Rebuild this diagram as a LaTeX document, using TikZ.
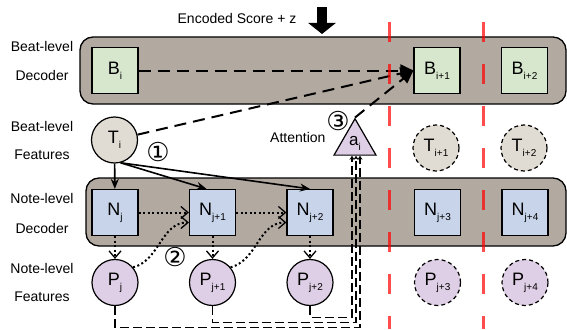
\documentclass[tikz,border=0pt]{standalone}
\usepackage{fontspec}
\setmainfont{Liberation Sans}
\newfontfamily\circfont{DejaVu Sans}
\usetikzlibrary{arrows.meta, shapes.geometric}

\definecolor{bandgray}{HTML}{B2A9A1}
\definecolor{beatgreen}{HTML}{D7E7CD}
\definecolor{featbeige}{HTML}{E1DCD3}
\definecolor{noteblue}{HTML}{C7D4EA}
\definecolor{notepurple}{HTML}{DFCFE6}

\newcommand{\idx}[1]{\raisebox{-5pt}{\fontsize{10}{10}\selectfont #1}}

\begin{document}
\begin{tikzpicture}[
                x=1pt, y=-1pt,
                font=\fontsize{14}{16}\selectfont,
                band/.style={draw, line width=1.3pt, fill=bandgray, rounded corners=13pt},
                beatbox/.style={draw, line width=1.2pt, fill=beatgreen, minimum width=46pt, minimum height=46pt,
                  inner sep=0pt, font=\fontsize{18}{20}\selectfont},
                notebox/.style={beatbox, fill=noteblue},
                beatfeat/.style={circle, draw, line width=1.2pt, fill=featbeige, minimum size=46pt,
                  inner sep=0pt, font=\fontsize{18}{20}\selectfont},
                notefeat/.style={beatfeat, fill=notepurple},
                future/.style={dash pattern=on 4pt off 3pt},
                attn/.style={regular polygon, regular polygon sides=3, draw, line width=1.2pt, fill=notepurple,
                  minimum size=48.5pt, inner sep=0pt, font=\fontsize{17}{18}\selectfont},
                circnum/.style={font=\circfont\fontsize{26}{26}\selectfont, inner sep=0pt},
                beatarrow/.style={draw, line width=2pt, dash pattern=on 12pt off 7pt, -{Triangle[length=13pt,width=12pt]}},
                tiarrow/.style={draw, line width=1.6pt, -{Stealth[length=10pt,width=8pt]}},
                dotarrow/.style={draw, line width=2pt, dash pattern=on 2pt off 2.5pt,
                  -{Straight Barb[length=7pt,width=12pt,line width=1.3pt]}},
                featline/.style={draw, line width=1.2pt, dash pattern=on 9pt off 4pt, -{Stealth[length=4pt,width=5pt]}},
                sepline/.style={draw=red, opacity=0.7, line width=3pt, dash pattern=on 20pt off 22pt}
              ]
              \useasboundingbox (0,0) rectangle (567,329);

              % bands
              \draw[band] (80,37) rectangle (566,104);
              \draw[band] (86,178) rectangle (566,246);

              % side texts
              \node (beatdec1) at (42,46) {Beat-level};
              \node (beatdec2) at (42,75) {Decoder};
              \node (beatfeat1) at (42,126) {Beat-level};
              \node (beatfeat2) at (42,155) {Features};
              \node (notedec1) at (42,198) {Note-level};
              \node (notedec2) at (42,228) {Decoder};
              \node (notefeat1) at (42,268) {Note-level};
              \node (notefeat2) at (42,297) {Features};

              \node (enc) at (237,18) {Encoded Score + z};
              \coordinate (zin) at (322,7);
              \coordinate (zout) at (322,34);
              \draw[line width=10pt, -{Triangle[length=11pt,width=27pt]}] (zin) -- (zout);

              % beat level
              \node (Bi) [beatbox] at (115,70.5) {B\idx{i}};
              \node (Bi1) [beatbox] at (437,70.5) {B\idx{i+1}};
              \node (Bi2) [beatbox] at (524.5,70.5) {B\idx{i+2}};
              \node (Ti) [beatfeat] at (114.5,140) {T\idx{i}};
              \node (Ti1) [beatfeat, future] at (436,148) {T\idx{i+1}};
              \node (Ti2) [beatfeat, future] at (524,148) {T\idx{i+2}};

              % attention
              \node (att) [attn] at (355,143) {a\idx{i}};
              \node (atttext) [anchor=east] at (329,137) {Attention};

              % note level
              \node (Nj) [notebox] at (115,212.5) {N\idx{j}};
              \node (Nj1) [notebox] at (212.5,212.5) {N\idx{j+1}};
              \node (Nj2) [notebox] at (310,212.5) {N\idx{j+2}};
              \node (Nj3) [notebox] at (437.5,212.5) {N\idx{j+3}};
              \node (Nj4) [notebox] at (525,212.5) {N\idx{j+4}};
              \node (Pj) [notefeat] at (115,282.5) {P\idx{j}};
              \node (Pj1) [notefeat] at (212.5,282.5) {P\idx{j+1}};
              \node (Pj2) [notefeat] at (310,282.5) {P\idx{j+2}};
              \node (Pj3) [notefeat, future] at (437.5,282.5) {P\idx{j+3}};
              \node (Pj4) [notefeat, future] at (525,282.5) {P\idx{j+4}};

              \node (one) [circnum] at (158,152) {①};
              \node (two) [circnum] at (175,257) {②};
              \node (three) [circnum] at (338,121) {③};

              % Draw arrows
              \draw[beatarrow] (Bi) -- (Bi1);
              \draw[beatarrow] (Ti) -- (Bi1.west);
              \draw[beatarrow] (att.corner 1) -- (Bi1.west);
              \draw[tiarrow] (Ti) -- (Nj);
              \draw[tiarrow] (Ti.-75) -- ([xshift=-6pt]Nj1.north);
              \draw[tiarrow] (Ti.-75) -- (Nj2.north);
              \draw[dotarrow] (Nj) -- (Nj1);
              \draw[dotarrow] (Nj1) -- (Nj2);
              \draw[dotarrow] (Nj) -- (Pj);
              \draw[dotarrow] (Nj1) -- (Pj1);
              \draw[dotarrow] (Nj2) -- (Pj2);
              \draw[dotarrow] (Pj.40) to[out=15, in=180] ([yshift=-10pt]Nj1.west);
              \draw[dotarrow] (Pj1.40) to[out=15, in=180] ([yshift=-10pt]Nj2.west);
              \draw[featline] (Pj.south) -- ++(0,21) -| ([xshift=5pt]att.south);
              \draw[featline] (Pj1.south) -- ++(0,16) -| ([xshift=1pt]att.south);
              \draw[featline] (Pj2.south) -- ++(0,11) -| ([xshift=-3pt]att.south);

              % separators
              \draw[sepline] (389,22) -- (389,329);
              \draw[sepline] (483,22) -- (483,329);

            \end{tikzpicture}
\end{document}
